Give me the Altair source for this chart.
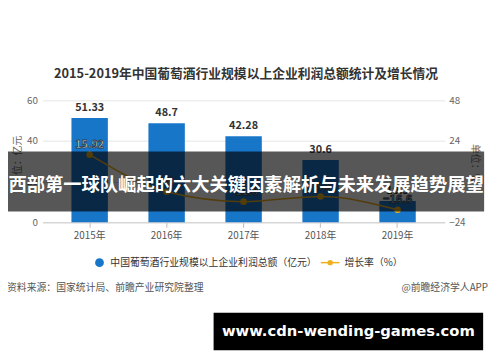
import altair as alt
import pandas as pd

# ---- data ----
years = ["2015年", "2016年", "2017年", "2018年", "2019年"]
profit = [51.33, 48.7, 42.28, 30.6, 10.5]
growth = [15.92, -6.0, -11.8, -8.8, -16.6]
left_ticks = [0, 20, 40, 60]
right_ticks = [-24, 0, 24, 48]

title_text = "2015-2019年中国葡萄酒行业规模以上企业利润总额统计及增长情况"
legend_bar = "中国葡萄酒行业规模以上企业利润总额（亿元）"
legend_line = "增长率（%）"
source_left = "资料来源：国家统计局、前瞻产业研究院整理"
source_right = "@前瞻经济学人APP"
banner_text = "西部第一球队崛起的六大关键因素解析与未来发展趋势展望"
watermark_text = "www.cdn-wending-games.com"
left_title = "单位：亿元"
right_title = "单位：%"

df = pd.DataFrame({"year": years, "profit": profit, "growth": growth})
one = pd.DataFrame({"a": [0]})

CJK = "Noto Sans CJK SC"
BLUE = "#1876c9"
GOLD = "#eeb01e"

x_enc = alt.X("year:N", sort=years,
              scale=alt.Scale(paddingInner=0.527, paddingOuter=0.377),
              axis=alt.Axis(title=None, labelAngle=0, labelFont=CJK, labelFontSize=10,
                            labelColor="#555", domainColor="#cccccc", tickColor="#bbbbbb",
                            tickSize=5, labelPadding=3, grid=False))

y_left = alt.Y("profit:Q", scale=alt.Scale(domain=[0, 60], nice=False),
               axis=alt.Axis(title=None, orient="left", values=left_ticks, domain=False,
                             ticks=False, labelPadding=5, labelFont=CJK, labelFontSize=10,
                             labelColor="#666", gridColor="#e4e4e4"))
y_left_noaxis = alt.Y("profit:Q", scale=alt.Scale(domain=[0, 60], nice=False), axis=None)

y_right = alt.Y("growth:Q", scale=alt.Scale(domain=[-24, 48], nice=False),
                axis=alt.Axis(title=None, orient="right", values=right_ticks, domain=False,
                              ticks=False, grid=False, labelPadding=4, labelFont=CJK,
                              labelFontSize=10, labelColor="#666"))
y_right_noaxis = alt.Y("growth:Q", scale=alt.Scale(domain=[-24, 48], nice=False), axis=None)

base = alt.Chart(df)

bars = base.mark_bar(color=BLUE).encode(x=x_enc, y=y_left)
bar_labels = base.mark_text(baseline="bottom", dy=-5, font=CJK, fontSize=11,
                            fontWeight="bold", color="#333").encode(
    x=alt.X("year:N", sort=years), y=y_left_noaxis, text=alt.Text("profit:Q"))

line = base.mark_line(color=GOLD, strokeWidth=1.5, interpolate="monotone").encode(
    x=alt.X("year:N", sort=years), y=y_right)
points = base.mark_point(color=GOLD, filled=True, size=45, opacity=1).encode(
    x=alt.X("year:N", sort=years), y=y_right_noaxis)
line_labels = base.mark_text(baseline="middle", dy=-10, font=CJK, fontSize=11,
                             fontWeight="bold", color="#ffffff", stroke="#2a3a4a",
                             strokeWidth=0.8).encode(
    x=alt.X("year:N", sort=years), y=y_right_noaxis, text=alt.Text("growth:Q", format=".2~f"))

def txt(text, x, y, size=10, color="#333", weight="normal", align="left",
        angle=0, font=CJK, baseline="middle"):
    kw = dict(text=text, align=align, baseline=baseline, fontSize=size, color=color,
              fontWeight=weight, font=font)
    if angle:
        kw["angle"] = angle
    return alt.Chart(one).mark_text(**kw).encode(x=alt.value(x), y=alt.value(y))

def rect(x, x2, y, y2, color, opacity=1.0):
    return alt.Chart(one).mark_rect(color=color, opacity=opacity).encode(
        x=alt.value(x), x2=alt.value(x2), y=alt.value(y), y2=alt.value(y2))

title = txt(title_text, 207, -27, size=13, color="#333", weight="bold", align="center")
ltitle = txt(left_title, -25, 61, size=10, color="#666", align="center", angle=270)
rtitle = txt(right_title, 440, 64, size=10, color="#666", align="center", angle=90)

banner = rect(-35, 449, 52, 113, "#000000", 0.66)
banner_t = txt(banner_text, 207, 86, size=18.6, color="#ffffff", weight="bold", align="center")

leg_dot = alt.Chart(one).mark_point(color=BLUE, filled=True, size=80, opacity=1).encode(
    x=alt.value(58), y=alt.value(165))
leg_t1 = txt(legend_bar, 69, 165, size=10, color="#333")
leg_line = alt.Chart(one).mark_rule(color=GOLD, strokeWidth=1.5).encode(
    x=alt.value(283), x2=alt.value(302), y=alt.value(165))
leg_pt = alt.Chart(one).mark_point(color=GOLD, filled=True, size=30, opacity=1).encode(
    x=alt.value(292.5), y=alt.value(165))
leg_t2 = txt(legend_line, 307, 165, size=10, color="#333")

src_l = txt(source_left, -36, 191, size=10, color="#555")
src_r = txt(source_right, 453, 191, size=10, color="#555", align="right")

wm_rect = rect(174, 448, 216, 254, "#000000")
wm_t = txt(watermark_text, 311, 235, size=15, color="#ffffff", weight="bold",
           align="center", font="DejaVu Sans")

chart = alt.layer(
    bars, bar_labels, line, points, line_labels,
    title, ltitle, rtitle, leg_dot, leg_t1, leg_line, leg_pt, leg_t2, src_l, src_r,
    banner, banner_t, wm_rect, wm_t,
).resolve_scale(y="independent").properties(
    width=409, height=124,
    autosize=alt.AutoSizeParams(type="none"),
    padding={"left": 35, "top": 91, "right": 48, "bottom": 131},
    background="#ffffff",
).configure_view(stroke=None)

chart.save("out.html", embed_options={"renderer": "svg", "actions": False})
